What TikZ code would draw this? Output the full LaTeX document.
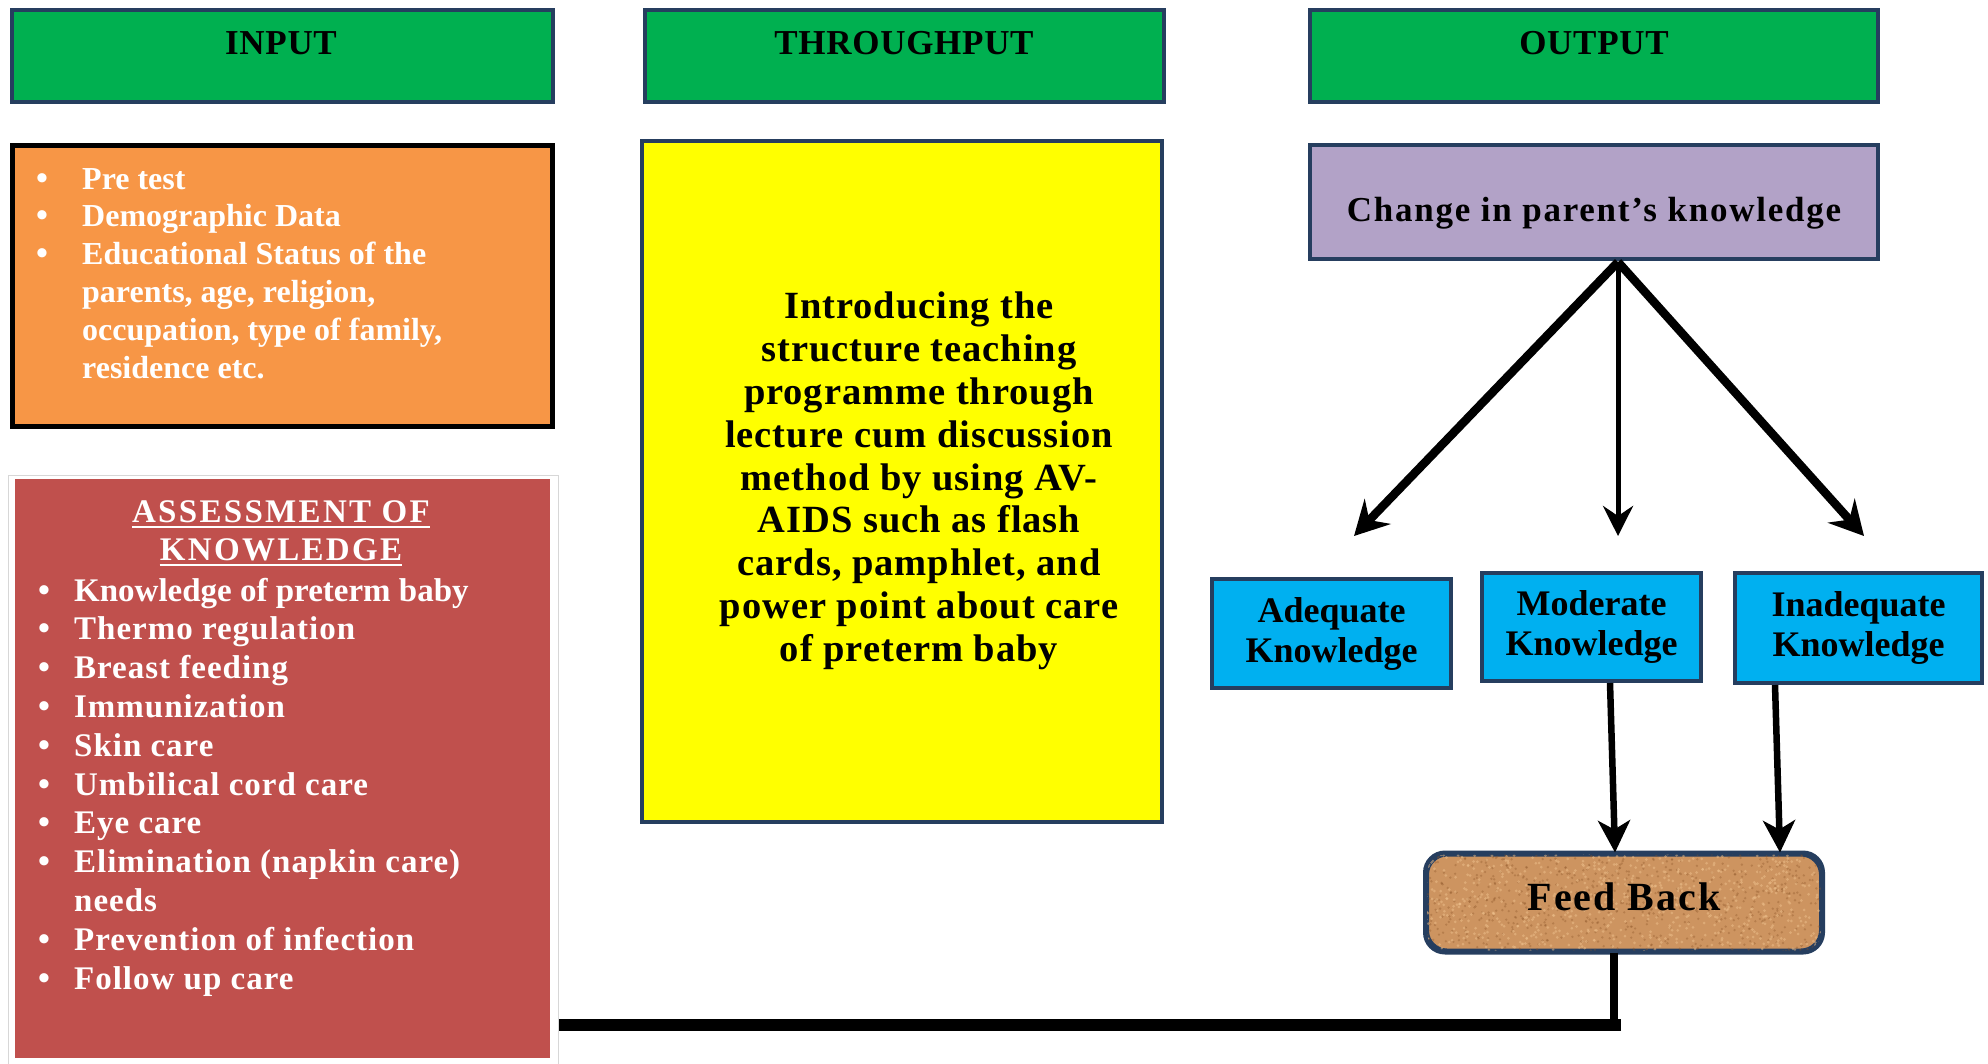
\documentclass[tikz,border=0pt]{standalone}
\usepackage{fontspec}
\setmainfont{Liberation Serif}
\usetikzlibrary{arrows.meta,calc}
\definecolor{hdrgreen}{RGB}{0,176,80}
\definecolor{bordblue}{RGB}{38,62,95}
\definecolor{orng}{RGB}{247,150,70}
\definecolor{redbox}{RGB}{192,80,77}
\definecolor{yel}{RGB}{255,255,0}
\definecolor{purp}{RGB}{178,162,199}
\definecolor{cyanbox}{RGB}{0,176,240}
\definecolor{cork}{RGB}{205,148,96}
\definecolor{corkdark}{RGB}{140,85,40}
\definecolor{corklight}{RGB}{238,192,140}
\definecolor{framegray}{RGB}{215,215,215}
\begin{document}
\begin{tikzpicture}[x=1pt,y=-1pt,
  box/.style={draw=bordblue, line width=4pt, inner sep=0pt, rectangle},
  hdr/.style={box, fill=hdrgreen, minimum height=92pt},
  hdrtxt/.style={anchor=base, inner sep=0pt, font=\fontsize{35}{40}\selectfont\bfseries\addfontfeature{LetterSpace=2}},
  listtxt/.style={anchor=base west, inner sep=0pt, text=white, font=\fontsize{33}{38}\selectfont\bfseries},
  bul/.style={anchor=base, inner sep=0pt, text=white, font=\fontsize{34}{38}\selectfont\bfseries},
  ytxt/.style={anchor=base, inner sep=0pt, font=\fontsize{38.5}{43}\selectfont\bfseries\addfontfeature{LetterSpace=2.5}},
  kbox/.style={box, fill=cyanbox, align=center, font=\fontsize{36}{40}\selectfont\bfseries},
  bigarrow/.style={line width=8.5pt, -{Stealth[length=34pt,width=36pt,inset=12pt]}},
  midarrow/.style={line width=5pt, -{Stealth[length=30pt,width=30pt,inset=10pt]}},
  fbarrow/.style={line width=6.5pt, -{Stealth[length=32pt,width=32pt,inset=9pt]}}
]
\useasboundingbox (0,0) rectangle (1988,1063);
\fill[white] (0,0) rectangle (1988,1063);

% headers
\node[hdr, minimum width=541pt] (hin) at (282.5,56) {};
\node[hdr, minimum width=519pt] (hth) at (904.5,56) {};
\node[hdr, minimum width=568pt] (hout) at (1594,56) {};
\node[hdrtxt] (hintxt) at (281,54.5) {INPUT};
\node[hdrtxt] (hthtxt) at (904,54.5) {THROUGHPUT};
\node[hdrtxt] (houttxt) at (1594,54.5) {OUTPUT};

% input orange box
\node[draw=black, line width=5pt, fill=orng, inner sep=0pt, minimum width=540pt, minimum height=281pt] (inbox) at (282.5,286) {};
\foreach \yy/\t [count=\i] in {189/Pre test, 226.8/Demographic Data, 264.6/Educational Status of the, 302.4/{parents, age, religion,}, 340.2/{occupation, type of family,}, 378/residence etc.}
  \node[listtxt, font=\fontsize{32}{38}\selectfont\bfseries] (ot\i) at (82,\yy) {\t};
\foreach \yy [count=\i] in {189,226.8,264.6}
  \node[bul] (ob\i) at (42,\yy) {\textbullet};

% assessment red box
\node[draw=framegray, line width=1pt, inner sep=0pt, minimum width=550pt, minimum height=592pt] (frame) at (283,771) {};
\node[fill=redbox, inner sep=0pt, minimum width=535pt, minimum height=579pt] (redb) at (282.5,768.5) {};
\node[anchor=base, inner sep=0pt, text=white, font=\fontsize{33}{38}\selectfont\bfseries\addfontfeature{LetterSpace=7}] (rt1) at (281,522) {ASSESSMENT OF};
\node[anchor=base, inner sep=0pt, text=white, font=\fontsize{33}{38}\selectfont\bfseries\addfontfeature{LetterSpace=7}] (rt2) at (281,560) {KNOWLEDGE};
\draw[white, line width=2.5pt] ([yshift=-5pt]rt1.base west) -- ([yshift=-5pt]rt1.base east);
\draw[white, line width=2.5pt] ([yshift=-5pt]rt2.base west) -- ([yshift=-5pt]rt2.base east);
\node[listtxt] (rl1) at (74,601) {Knowledge of preterm baby};
\foreach \yy/\t [count=\i from 2] in {639.8/Thermo regulation, 678.6/Breast feeding, 717.4/Immunization, 756.2/Skin care, 795/Umbilical cord care, 833.8/Eye care, 872.6/Elimination (napkin care), 911.4/needs, 950.2/Prevention of infection, 989/Follow up care}
  \node[listtxt, font=\fontsize{33}{38}\selectfont\bfseries\addfontfeature{LetterSpace=3}] (rl\i) at (74,\yy) {\t};
\foreach \yy [count=\i] in {601,639.8,678.6,717.4,756.2,795,833.8,872.6,950.2,989}
  \node[bul] (rb\i) at (44,\yy) {\textbullet};

% throughput yellow box
\node[box, fill=yel, minimum width=520pt, minimum height=681pt] (ybox) at (902,481.5) {};
\foreach \yy/\t [count=\i] in {318/Introducing the, 361/structure teaching, 404/programme through, 447/lecture cum discussion, 490/method by using AV-, 532/AIDS such as flash, 575/{cards, pamphlet, and}, 618/power point about care, 661/of preterm baby}
  \node[ytxt] (yl\i) at (919,\yy) {\t};

% output
\node[box, fill=purp, minimum width=568pt, minimum height=114pt] (purple) at (1594,202) {};
\node[anchor=base, inner sep=0pt, font=\fontsize{35}{40}\selectfont\bfseries\addfontfeature{LetterSpace=5}] (ptxt) at (1594,221) {Change in parent’s knowledge};

\node[kbox, minimum width=239pt, minimum height=109pt] (adeq) at (1331.5,633.5) {Adequate\\Knowledge};
\node[kbox, minimum width=219pt, minimum height=108pt] (mod) at (1591.5,627) {Moderate\\Knowledge};
\node[kbox, minimum width=247pt, minimum height=110pt] (inad) at (1858.5,628) {Inadequate\\Knowledge};

\coordinate (fork) at (1618,262);
\coordinate (tA) at (1354,536);
\coordinate (tB) at (1618,536);
\coordinate (tC) at (1864,536);
\draw[bigarrow] (fork) -- (tA);
\draw[midarrow] (fork) -- (tB);
\draw[bigarrow] (fork) -- (tC);

% feed back
\node[box, fill=cork, rounded corners=20pt, minimum width=394pt, minimum height=96pt] (fb) at (1624,902.5) {};
\begin{scope}
  \clip[rounded corners=18pt] (1427,854) rectangle (1821,951);
  \pgfmathsetseed{11}
  \foreach \k in {1,...,700}
    \fill[corkdark, opacity=0.35] (1425+398*rnd, 852+100*rnd) circle (1.3pt);
  \foreach \k in {1,...,700}
    \fill[corklight, opacity=0.5] (1425+398*rnd, 852+100*rnd) circle (1.5pt);
\end{scope}
\draw[bordblue, line width=4pt, rounded corners=20pt] (fb.north west) rectangle (fb.south east);
\node[anchor=base, inner sep=0pt, font=\fontsize{40}{44}\selectfont\bfseries\addfontfeature{LetterSpace=5}] (fbtxt) at (1624,910) {Feed Back};

\draw[fbarrow] ($(mod.south)+(18.5,0)$) -- ($(fb.north)+(-9,0)$);
\draw[fbarrow] ($(inad.south)+(-83.5,0)$) -- ($(fb.north)+(156,0)$);

\coordinate (corner) at (1614,1024.5);
\draw[line width=8pt] ($(fb.south)+(-10,0)$) -- (corner);
\draw[line width=12pt] ([xshift=7pt]corner) -- (frame.east |- corner);
\end{tikzpicture}
\end{document}
